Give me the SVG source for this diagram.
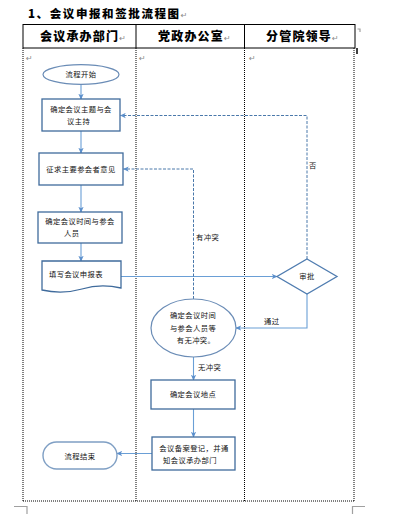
<svg xmlns="http://www.w3.org/2000/svg" width="400" height="520" viewBox="0 0 400 520">
<style>
.t{font-family:"Noto Sans CJK SC","Noto Sans CJK JP",sans-serif;font-size:7.3px;fill:#111;letter-spacing:0.4px}
.h{font-family:"Noto Sans CJK SC","Noto Sans CJK JP",sans-serif;font-size:12px;font-weight:900;fill:#000;letter-spacing:1.2px}
.r{font-family:"DejaVu Sans",sans-serif;font-size:8px;fill:#8a8a8a}
.dot{stroke:#000;stroke-width:1;stroke-dasharray:1,1;fill:none}
.box{fill:#fff;stroke:#3f6b9c;stroke-width:1.3}
.ell{fill:#fff;stroke:#6a8cb6;stroke-width:1.2}
.c{fill:none;stroke:#6a9fd6;stroke-width:1.1}
.d{fill:none;stroke:#4a78aa;stroke-width:1;stroke-dasharray:3,1.5}
.mk{fill:none;stroke:#a0a0a0;stroke-width:1.2}
</style>
<defs>
<marker id="a" viewBox="0 0 8 8" refX="7" refY="4" markerWidth="6" markerHeight="6" orient="auto" markerUnits="userSpaceOnUse">
<path d="M0,0.5 L8,4 L0,7.5 L2,4 z" fill="#5b8fcc"/>
</marker>
</defs>
<rect width="400" height="520" fill="#fff"/>

<text x="28" y="18" class="h" style="font-size:11.5px;letter-spacing:1.6px">1、会议申报和签批流程图<tspan class="r" style="font-weight:normal;letter-spacing:0">↵</tspan></text>

<g id="table">
<rect x="23" y="24.5" width="332" height="23.5" fill="none" stroke="#000" stroke-width="1"/>
<line x1="136" y1="24.5" x2="136" y2="48" stroke="#000" stroke-width="1"/>
<line x1="244.5" y1="24.5" x2="244.5" y2="48" stroke="#000" stroke-width="1"/>
<text x="40" y="40.5" class="h">会议承办部门<tspan class="r" style="font-weight:normal;letter-spacing:0">↵</tspan></text>
<text x="158" y="40.5" class="h">党政办公室<tspan class="r" style="font-weight:normal;letter-spacing:0">↵</tspan></text>
<text x="266" y="40.5" class="h">分管院领导<tspan class="r" style="font-weight:normal;letter-spacing:0">↵</tspan></text>
<line class="dot" x1="23" y1="48" x2="23" y2="501"/>
<line class="dot" x1="136" y1="48" x2="136" y2="501"/>
<line class="dot" x1="244.5" y1="48" x2="244.5" y2="501"/>
<line class="dot" x1="354" y1="48" x2="354" y2="501"/>
<line class="dot" x1="23" y1="501" x2="354" y2="501"/>
<text x="26" y="61" class="r">↵</text>
<text x="139" y="61" class="r">↵</text>
<text x="249" y="61" class="r">↵</text>
<line x1="357" y1="48" x2="357" y2="54" stroke="#000" stroke-width="1.5"/>
<path class="mk" d="M357.5,29 H360 V32" stroke-width="0.8"/>
<path class="mk" d="M14,506.5 H27 V514"/>
<path class="mk" d="M365,506.5 H352.5 V514"/>
</g>

<g id="connectors">
<line class="c" x1="81" y1="84" x2="81" y2="99" marker-end="url(#a)"/>
<line class="c" x1="81" y1="131" x2="81" y2="153" marker-end="url(#a)"/>
<line class="c" x1="81" y1="185" x2="81" y2="212" marker-end="url(#a)"/>
<line class="c" x1="81" y1="243" x2="81" y2="261" marker-end="url(#a)"/>
<line class="c" x1="121" y1="276.5" x2="277" y2="276.5" marker-end="url(#a)"/>
<path class="d" d="M307,259 V115.5 H120.5" marker-end="url(#a)"/>
<text x="309" y="168" class="t">否</text>
<path class="d" d="M193.5,299 V169 H123.5" marker-end="url(#a)"/>
<text x="196" y="240" class="t">有冲突</text>
<path class="c" d="M307,294 V328 H236" marker-end="url(#a)"/>
<text x="264" y="324" class="t">通过</text>
<line class="c" x1="193.5" y1="357" x2="193.5" y2="380" marker-end="url(#a)"/>
<text x="198" y="369.5" class="t">无冲突</text>
<line class="c" x1="193.5" y1="409" x2="193.5" y2="437" marker-end="url(#a)"/>
<line class="c" x1="152" y1="453.5" x2="117" y2="453.5" marker-end="url(#a)"/>
</g>

<g id="start">
<ellipse class="ell" cx="81" cy="74.5" rx="38" ry="9.8"/>
<text x="81" y="77" class="t" text-anchor="middle">流程开始</text>
</g>
<g id="topic">
<rect class="box" x="42" y="99" width="78" height="32"/>
<text x="81" y="112" class="t" text-anchor="middle">确定会议主题与会</text>
<text x="67" y="124" class="t">议主持</text>
</g>
<g id="opinion">
<rect class="box" x="39" y="153" width="84" height="32"/>
<text x="81" y="171.5" class="t" text-anchor="middle">征求主要参会者意见</text>
</g>
<g id="time">
<rect class="box" x="38" y="212" width="84" height="31"/>
<text x="80" y="224" class="t" text-anchor="middle">确定会议时间与参会</text>
<text x="64" y="235.5" class="t">人员</text>
</g>
<g id="form">
<path class="box" d="M42,261 H121 V288 C108,285 95,285 82,289 C68,293 55,293 42,290 Z"/>
<text x="49" y="277" class="t">填写会议申报表</text>
</g>
<g id="approve">
<path class="box" d="M307,259 L337,276.5 L307,294 L277,276.5 Z" style="stroke:#4f7cb0"/>
<text x="307" y="279" class="t" text-anchor="middle">审批</text>
</g>
<g id="conflict">
<ellipse class="ell" cx="193.5" cy="328" rx="42.5" ry="29"/>
<text x="193" y="318" class="t" text-anchor="middle">确定会议时间</text>
<text x="193" y="330.5" class="t" text-anchor="middle">与参会人员等</text>
<text x="196" y="343" class="t" text-anchor="middle">有无冲突。</text>
</g>
<g id="place">
<rect class="box" x="151" y="380" width="84" height="29"/>
<text x="193" y="397" class="t" text-anchor="middle">确定会议地点</text>
</g>
<g id="record">
<rect class="box" x="152" y="437" width="83" height="33"/>
<text x="194" y="451" class="t" text-anchor="middle">会议备案登记，并通</text>
<text x="190" y="462.5" class="t" text-anchor="middle">知会议承办部门</text>
</g>
<g id="end">
<rect class="ell" x="43" y="442" width="74" height="27" rx="13.5" ry="13.5" style="stroke:#7f9fc4;stroke-width:1.4"/>
<text x="80" y="458.5" class="t" text-anchor="middle">流程结束</text>
</g>
</svg>
